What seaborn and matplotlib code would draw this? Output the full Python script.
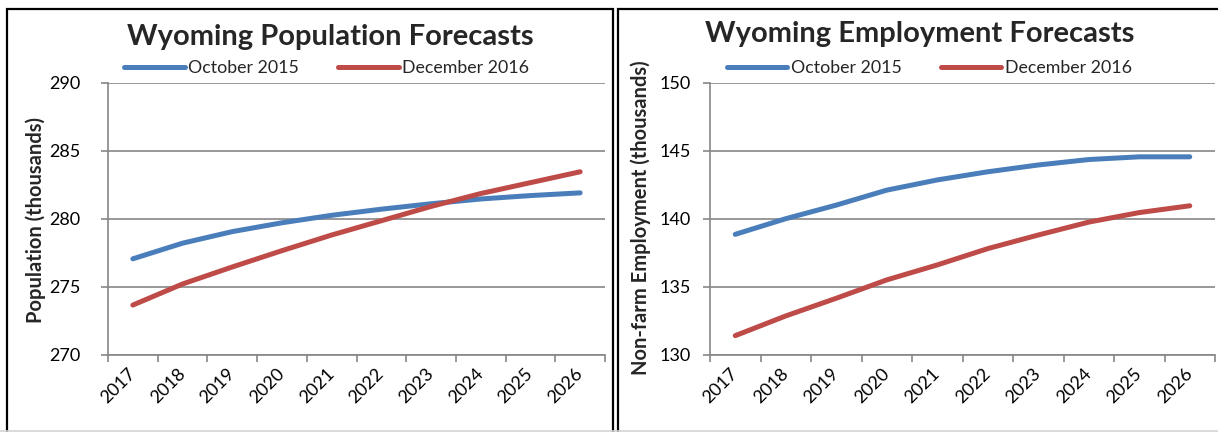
import matplotlib
matplotlib.use("Agg")
import matplotlib.pyplot as plt
from matplotlib.patches import Rectangle
from matplotlib.lines import Line2D
from matplotlib.ticker import FixedLocator
import numpy as np
import pandas as pd
import seaborn as sns

# Forecast years (categories)
years = ["2017", "2018", "2019", "2020", "2021", "2022", "2023", "2024", "2025", "2026"]
series_names = ["October 2015", "December 2016"]

# Wyoming population forecasts (thousands)
pop_oct_2015 = [277.05, 278.2, 279.05, 279.7, 280.25, 280.7, 281.1, 281.45, 281.7, 281.9]
pop_dec_2016 = [273.65, 275.2, 276.45, 277.65, 278.8, 279.85, 280.9, 281.85, 282.65, 283.45]

# Wyoming non-farm employment forecasts (thousands)
emp_oct_2015 = [138.85, 140.0, 141.0, 142.1, 142.85, 143.45, 143.95, 144.35, 144.55, 144.55]
emp_dec_2016 = [131.4, 132.85, 134.15, 135.5, 136.6, 137.8, 138.8, 139.75, 140.45, 140.95]

pop_ticks = [270, 275, 280, 285, 290]
emp_ticks = [130, 135, 140, 145, 150]

line_colors = ["#4A7EBB", "#BE4B48"]
axis_gray = "#868686"

sns.set_theme(style="white")
plt.rcParams["font.family"] = ["Lato", "DejaVu Sans"]

W, H = 1218, 432
fig = plt.figure(figsize=(W / 100, H / 100), dpi=100)
fig.patch.set_facecolor("white")


def px_axes(x0, x1, y_top, y_bot):
    return [x0 / W, 1 - y_bot / H, (x1 - x0) / W, (y_bot - y_top) / H]


ax_pop = fig.add_axes(px_axes(108, 605, 82.7, 354.7))
ax_emp = fig.add_axes(px_axes(710, 1215, 82.7, 354.7))


def draw_panel(ax, first, second, ticks, ylabel_pad, legend_x):
    df = pd.DataFrame({
        "Year": years * 2,
        "Value": first + second,
        "Series": [series_names[0]] * len(years) + [series_names[1]] * len(years),
    })
    sns.lineplot(data=df, x="Year", y="Value", hue="Series", hue_order=series_names,
                 palette=line_colors, linewidth=3.6, sort=False, ax=ax)
    for ln in ax.get_lines():
        ln.set_solid_capstyle("round")
        ln.set_solid_joinstyle("round")

    ax.set_xlim(-0.5, len(years) - 0.5)
    ax.set_ylim(ticks[0], ticks[-1])
    ax.set_yticks(ticks)
    ax.set_xlabel("")
    ax.set_ylabel("")

    # category boundaries carry the x tick marks, labels sit at the centers
    ax.xaxis.set_minor_locator(FixedLocator(np.arange(-0.5, len(years), 1.0)))
    ax.tick_params(axis="x", which="major", length=0, pad=12, labelsize=13, labelcolor="black")
    ax.tick_params(axis="x", which="minor", length=5, width=1.2, color=axis_gray, direction="out",
                   bottom=True)
    for lab in ax.get_xticklabels():
        lab.set_rotation(45)
        lab.set_ha("right")
        lab.set_va("center")
        lab.set_rotation_mode("anchor")

    ax.tick_params(axis="y", which="major", length=5, width=1.2, color=axis_gray, direction="out",
                   left=True, pad=ylabel_pad, labelsize=13, labelcolor="black")

    ax.yaxis.grid(True, color=axis_gray, linewidth=1.2)
    ax.xaxis.grid(False)
    ax.set_axisbelow(True)
    for side in ("top", "right"):
        ax.spines[side].set_visible(False)
    for side in ("left", "bottom"):
        ax.spines[side].set_color(axis_gray)
        ax.spines[side].set_linewidth(1.2)

    handles, labels = ax.get_legend_handles_labels()
    if ax.get_legend() is not None:
        ax.get_legend().remove()
    leg = ax.legend(handles, labels, loc="center", bbox_to_anchor=(legend_x, 1.054), ncol=2,
                    frameon=False, fontsize=12.8, handlelength=3.4, handletextpad=0.2,
                    columnspacing=2.2, borderaxespad=0)
    for h in leg.get_lines():
        h.set_linewidth(3.6)
        h.set_solid_capstyle("round")


draw_panel(ax_pop, pop_oct_2015, pop_dec_2016, pop_ticks, 15, 0.44)
draw_panel(ax_emp, emp_oct_2015, emp_dec_2016, emp_ticks, 9, 0.434)

# Chart titles and axis titles
fig.text(330 / W, 1 - 37 / H, "Wyoming Population Forecasts", ha="center", va="center",
         fontsize=21, fontweight="bold")
fig.text(919.5 / W, 1 - 34 / H, "Wyoming Employment Forecasts", ha="center", va="center",
         fontsize=21, fontweight="bold")
fig.text(36 / W, 1 - 220 / H, "Population (thousands)", rotation=90, ha="center", va="center",
         fontsize=14.5, fontweight="bold")
fig.text(641 / W, 1 - 218 / H, "Non-farm Employment (thousands)", rotation=90, ha="center",
         va="center", fontsize=14.5, fontweight="bold")

# Frames around the two chart areas
fig.add_artist(Rectangle((6.5 / W, -0.05), (613.5 - 6.5) / W, 1.05 - 9 / H,
                         transform=fig.transFigure, fill=False, edgecolor="black", linewidth=1.6))
fig.add_artist(Rectangle((618 / W, -0.05), 0.6, 1.05 - 9 / H,
                         transform=fig.transFigure, fill=False, edgecolor="black", linewidth=1.6))
fig.add_artist(Line2D([0, 1], [1 - 430.5 / H, 1 - 430.5 / H], transform=fig.transFigure,
                      color="#d4d4d4", linewidth=1.2))

fig.savefig("out.png", dpi=100, facecolor="white")
